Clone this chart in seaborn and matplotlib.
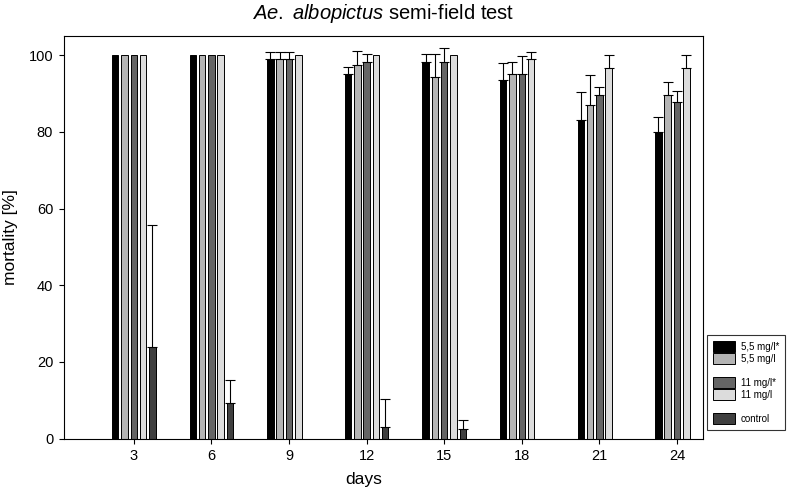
import numpy as np
import pandas as pd
import seaborn as sns
import matplotlib.pyplot as plt
from matplotlib.patches import Patch
from matplotlib.container import BarContainer

days = ['3', '6', '9', '12', '15', '18', '21', '24']
groups = ['5,5 mg/l*', '5,5 mg/l', '11 mg/l*', '11 mg/l', 'control']
colors = ['#000000', '#b4b4b4', '#656565', '#dcdcdc', '#3f3f3f']

# mean mortality [%] per day
m55s = [100, 100, 99.1, 95.1, 98.3, 93.6, 83.1, 79.9]
m55 = [100, 100, 99.0, 97.5, 94.3, 95.1, 87.1, 89.6]
m11s = [100, 100, 99.0, 98.3, 98.3, 95.1, 89.6, 87.9]
m11 = [100, 100, 100, 100, 100, 99.0, 96.7, 96.7]
ctrl = [24.0, 9.2, np.nan, 3.1, 2.5, np.nan, np.nan, np.nan]

# upper error bars
e55s = [0, 0, 1.7, 1.7, 2.1, 4.4, 7.2, 3.9]
e55 = [0, 0, 1.8, 3.5, 5.9, 3.2, 7.8, 3.4]
e11s = [0, 0, 1.8, 2.1, 3.5, 4.8, 2.0, 2.8]
e11 = [0, 0, 0, 0, 0, 1.8, 3.3, 3.3]
ectrl = [31.6, 6.1, 0, 7.1, 2.3, 0, 0, 0]

means = [m55s, m55, m11s, m11, ctrl]
errs = [e55s, e55, e11s, e11, ectrl]

rows = []
for g, vals in zip(groups, means):
    for d, v in zip(days, vals):
        rows.append({'day': d, 'group': g, 'mortality': v})
df = pd.DataFrame(rows).dropna()

sns.set_style('ticks', rc={'text.color': 'black', 'axes.labelcolor': 'black',
                           'xtick.color': 'black', 'ytick.color': 'black'})
plt.rcParams['font.family'] = ['Liberation Sans', 'DejaVu Sans']
plt.rcParams['mathtext.fontset'] = 'custom'
plt.rcParams['mathtext.it'] = 'Liberation Sans:italic'
plt.rcParams['mathtext.rm'] = 'Liberation Sans'

fig = plt.figure(figsize=(7.88, 4.92), dpi=100)
ax = fig.add_axes([0.0812, 0.1087, 0.8109, 0.8181])

sns.barplot(data=df, x='day', y='mortality', hue='group', order=days,
            hue_order=groups, palette=dict(zip(groups, colors)),
            width=0.6, gap=0.3, errorbar=None, edgecolor='black',
            linewidth=0.7, legend=False, ax=ax)

bar_conts = [c for c in ax.containers if isinstance(c, BarContainer)]
for gi, cont in enumerate(bar_conts):
    for bar in cont:
        cx = bar.get_x() + bar.get_width() / 2
        idx = int(round(cx))
        e = errs[gi][idx]
        if e > 0:
            ax.errorbar(cx, bar.get_height(), yerr=[[0], [e]], fmt='none',
                        ecolor='black', elinewidth=0.8, capsize=3.4,
                        capthick=0.8, zorder=3)

ax.set_xlim(-0.9, 7.335)
ax.set_ylim(0, 105)
ax.set_yticks([0, 20, 40, 60, 80, 100])
for s in ax.spines.values():
    s.set_linewidth(0.8)
    s.set_color('black')
ax.tick_params(direction='out', length=3.8, width=0.8, labelsize=10.5,
               colors='black', pad=4)

ax.set_xlabel('days', fontsize=12.5, color='black')
ax.set_ylabel('mortality [%]', fontsize=12.5, color='black')
ax.xaxis.set_label_coords(0.469, -0.083)
ax.yaxis.set_label_coords(-0.072, 0.5)

fig.text(0.486, 0.961, r'$\it{Ae.\ albopictus}$ semi-field test',
         ha='center', va='baseline', fontsize=14.5, color='black')

blank = Patch(facecolor='none', edgecolor='none')
handles = [Patch(facecolor=c, edgecolor='black', linewidth=0.7) for c in colors]
leg_h = [handles[0], handles[1], blank, handles[2], handles[3], blank, handles[4]]
leg_l = [groups[0], groups[1], '', groups[2], groups[3], '', groups[4]]
leg = fig.legend(leg_h, leg_l, loc='upper left',
                 bbox_to_anchor=(0.8968, 0.3191), bbox_transform=fig.transFigure,
                 fontsize=7, frameon=True, fancybox=False, borderaxespad=0,
                 borderpad=0.6, handlelength=2.3, handleheight=1.35,
                 handletextpad=0.6, labelspacing=0.12, labelcolor='black')
leg.get_frame().set_edgecolor('black')
leg.get_frame().set_linewidth(0.8)

fig.savefig('out.png', dpi=100)
